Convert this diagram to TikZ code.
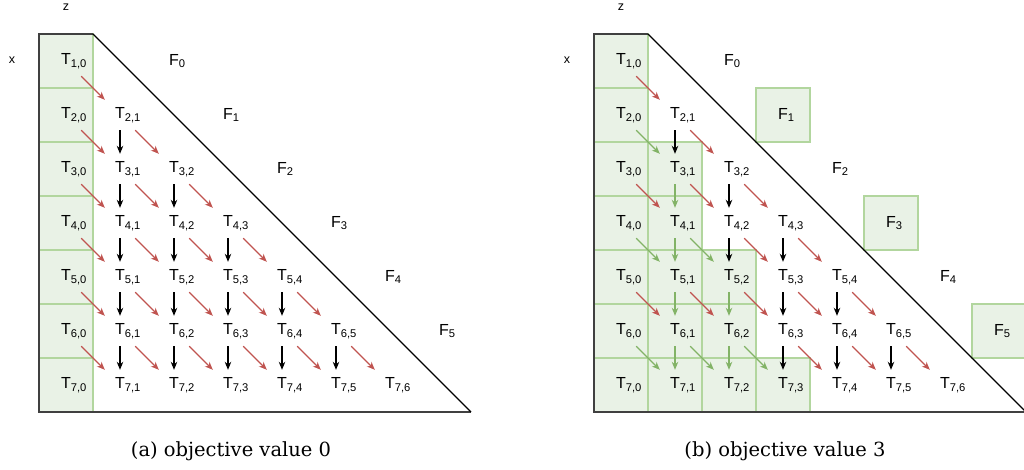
\documentclass[tikz,border=0pt]{standalone}
\usepackage{fontspec}
\usepackage{xcolor}
\usepackage{tikz}
\usetikzlibrary{arrows.meta}
\newfontfamily\diagfont{Liberation Sans}
\newfontfamily\capfont{DejaVu Serif}
\definecolor{cellfill}{RGB}{233,242,230}
\definecolor{cellline}{RGB}{178,214,158}
\definecolor{redarrow}{RGB}{192,84,80}
\definecolor{greenarrow}{RGB}{130,179,102}
\definecolor{framegray}{RGB}{64,64,64}

\begin{document}
\begin{tikzpicture}[x=1pt, y=-1pt, >={Stealth[length=8pt,width=6.5pt]},
every node/.style={font=\diagfont\fontsize{16}{19}\selectfont},
tnode/.style={minimum size=30pt, inner sep=0pt},
cell/.style={fill=cellfill, draw=cellline, line width=1.2pt},
panelframe/.style={draw=framegray, line width=2pt},
diag/.style={->, draw=redarrow, line width=1.1pt},
down/.style={->, draw=black, line width=1.1pt},
chosen/.style={draw=greenarrow},
axislabel/.style={font=\diagfont\fontsize{12.5}{15}\selectfont},
captext/.style={font=\capfont\fontsize{19.5}{23}\selectfont},
b d20/.style=chosen, b d40/.style=chosen, b d41/.style=chosen,
b d60/.style=chosen, b d61/.style=chosen, b d62/.style=chosen,
b v31/.style=chosen, b v41/.style=chosen, b v51/.style=chosen,
b v61/.style=chosen, b v52/.style=chosen, b v62/.style=chosen]
\useasboundingbox (0,0) rectangle (1024,470);

% cells of solution (b)
\begin{scope}[xshift=555pt]
  \foreach \c/\r in {1/3,1/4,1/5,1/6,1/7,2/5,2/6,2/7,3/7,3/2,5/4,7/6}
    \draw[cell] ({39+54*\c},{34+54*(\r-1)}) rectangle ++(54,54);
\end{scope}

\foreach \p/\dx in {a/0pt, b/555pt} {
  \begin{scope}[xshift=\dx]
    \foreach \r in {1,...,7}
      \draw[cell] (39,{34+54*(\r-1)}) rectangle ++(54,54);
    \draw[panelframe] (93,34) -- (39,34) -- (39,412) -- (471,412);
    \draw[line width=1.2pt] (93,34) -- (471,412);

    \node[axislabel] (\p z) at (66,7) {z};
    \node[axislabel] (\p x) at (12,60) {x};

    % tasks
    \foreach \i in {1,...,7} {
      \pgfmathtruncatemacro\jmax{\i-1}
      \foreach \j in {0,...,\jmax}
        \node[tnode] (\p T\i\j) at ({66+54*\j},{61+54*(\i-1)}) {T\rlap{\textsubscript{\i,\j}}};
    }
    \foreach \k in {0,...,5}
      \node[tnode] (\p F\k) at ({66+54*(\k+2)},{61+54*\k}) {F\rlap{\textsubscript{\k}}};

    % dependencies
    \foreach \i in {1,...,6} {
      \pgfmathtruncatemacro\inext{\i+1}
      \pgfmathtruncatemacro\jmax{\i-1}
      \foreach \j in {0,...,\jmax} {
        \pgfmathtruncatemacro\jnext{\j+1}
        \draw[diag, \p\space d\i\j/.try] (\p T\i\j) -- (\p T\inext\jnext);
        \ifnum\j>0
          \draw[down, \p\space v\i\j/.try] (\p T\i\j) -- (\p T\inext\j);
        \fi
      }
    }
  \end{scope}
}

\node[captext] (capa) at (231,451) {(a) objective value 0};
\node[captext] (capb) at (785,451) {(b) objective value 3};
\end{tikzpicture}
\end{document}
